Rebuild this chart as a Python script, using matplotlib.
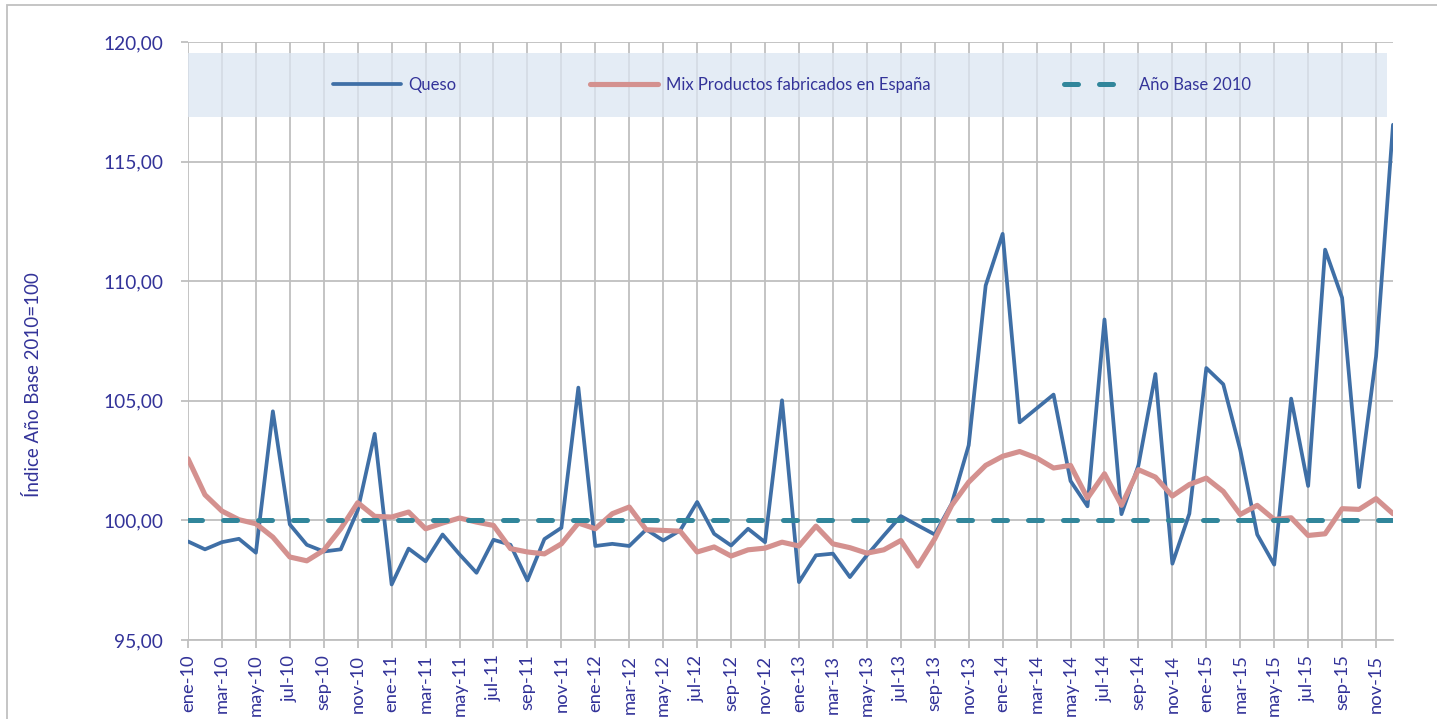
import matplotlib
matplotlib.use("Agg")
from matplotlib import pyplot as plt
from matplotlib.patches import Rectangle
from matplotlib.ticker import FuncFormatter

plt.rcParams['font.family'] = ['Lato', 'DejaVu Sans']

# Monthly index values, ene-10 .. dic-15
meses = ['ene', 'feb', 'mar', 'abr', 'may', 'jun', 'jul', 'ago', 'sep', 'oct', 'nov', 'dic']
anios = ['10', '11', '12', '13', '14', '15']
etiquetas = [m + '-' + a for a in anios for m in meses]

queso = [99.12, 98.79, 99.09, 99.23, 98.65, 104.56, 99.83, 98.98, 98.70, 98.79, 100.42, 103.62,
         97.32, 98.82, 98.29, 99.41, 98.58, 97.81, 99.19, 98.98, 97.49, 99.22, 99.69, 105.55,
         98.93, 99.02, 98.93, 99.62, 99.16, 99.58, 100.77, 99.44, 98.95, 99.65, 99.09, 105.02,
         97.42, 98.54, 98.61, 97.63, 98.54, 99.37, 100.18, 99.79, 99.41, 100.70, 103.14, 109.82,
         111.98, 104.10, 104.68, 105.26, 101.65, 100.59, 108.40, 100.26, 102.30, 106.12, 98.19, 100.28,
         106.37, 105.69, 102.95, 99.41, 98.15, 105.09, 101.44, 111.32, 109.31, 101.39, 106.85, 116.54]

mix = [102.58, 101.07, 100.39, 100.03, 99.86, 99.30, 98.47, 98.31, 98.75, 99.65, 100.74, 100.17,
       100.14, 100.35, 99.65, 99.89, 100.10, 99.93, 99.79, 98.82, 98.68, 98.60, 99.02, 99.89,
       99.65, 100.28, 100.56, 99.61, 99.58, 99.55, 98.68, 98.89, 98.51, 98.77, 98.84, 99.09,
       98.93, 99.76, 99.02, 98.86, 98.63, 98.77, 99.16, 98.09, 99.23, 100.63, 101.60, 102.30,
       102.68, 102.88, 102.61, 102.19, 102.30, 100.93, 101.95, 100.63, 102.12, 101.81, 101.02, 101.50,
       101.77, 101.21, 100.25, 100.63, 100.04, 100.11, 99.37, 99.44, 100.49, 100.46, 100.91, 100.28]

base = [100.0] * len(etiquetas)

txt_color = '#333399'
grid_color = '#BFBFBF'

fig = plt.figure(figsize=(14.37, 7.19), dpi=100)
ax = fig.add_axes([188 / 1437, 1 - 640 / 719, (1393 - 188) / 1437, (640 - 42) / 719])

x = list(range(len(etiquetas)))
ax.plot(x, queso, color='#3F6FA6', lw=2.7, label='Queso',
        solid_capstyle='round', solid_joinstyle='round', zorder=3)
ax.plot(x, mix, color='#D4918F', lw=3.7, label='Mix Productos fabricados en España',
        solid_capstyle='round', solid_joinstyle='round', zorder=4)
ax.plot(x, base, color='#31869B', lw=3.6, linestyle=(0, (2.8, 4.2)),
        dash_capstyle='round', label='Año Base 2010', zorder=5)

ax.set_xlim(0, len(etiquetas) - 1)
ax.set_ylim(95, 120)
ax.set_yticks([95, 100, 105, 110, 115, 120])
ax.yaxis.set_major_formatter(FuncFormatter(lambda v, p: f'{v:.2f}'.replace('.', ',')))
ax.set_xticks(x[::2])
ax.set_xticklabels(etiquetas[::2], rotation=90, va='top', ha='center')

ax.grid(True, color=grid_color, lw=1.3)
ax.set_axisbelow(True)
for s in ['top', 'right', 'left']:
    ax.spines[s].set_visible(False)
ax.spines['bottom'].set_color(grid_color)
ax.spines['bottom'].set_linewidth(1.3)
ax.tick_params(axis='y', length=5, width=1.3, color=grid_color, pad=13,
               labelsize=13.8, labelcolor=txt_color)
ax.tick_params(axis='x', length=5.5, width=1.3, color=grid_color, pad=5,
               labelsize=13.2, labelcolor=txt_color)

# legend band across the top of the plot
band = Rectangle((0, (640 - 117) / 598), (1387 - 188) / 1205, (117 - 53) / 598,
                 transform=ax.transAxes, facecolor='#DCE6F2', alpha=0.75,
                 edgecolor='none', zorder=6)
ax.add_patch(band)
leg = ax.legend(loc='center', bbox_to_anchor=((792 - 188) / 1205, (640 - 85) / 598),
                ncol=3, frameon=False, fontsize=12, handlelength=4.1,
                handletextpad=0.45, columnspacing=8.0)
leg.set_zorder(7)
for t in leg.get_texts():
    t.set_color(txt_color)

fig.text(33 / 1437, 1 - 385 / 719, 'Índice Año Base 2010=100', rotation=90,
         ha='center', va='center', fontsize=13.5, color=txt_color)

# outer chart border
fig.patches.append(Rectangle((7 / 1437, -0.05), 1.2, 1.05 - 5 / 719, transform=fig.transFigure,
                             fill=False, edgecolor='#C0C0C0', lw=1.3))

plt.savefig('out.png', dpi=100)
